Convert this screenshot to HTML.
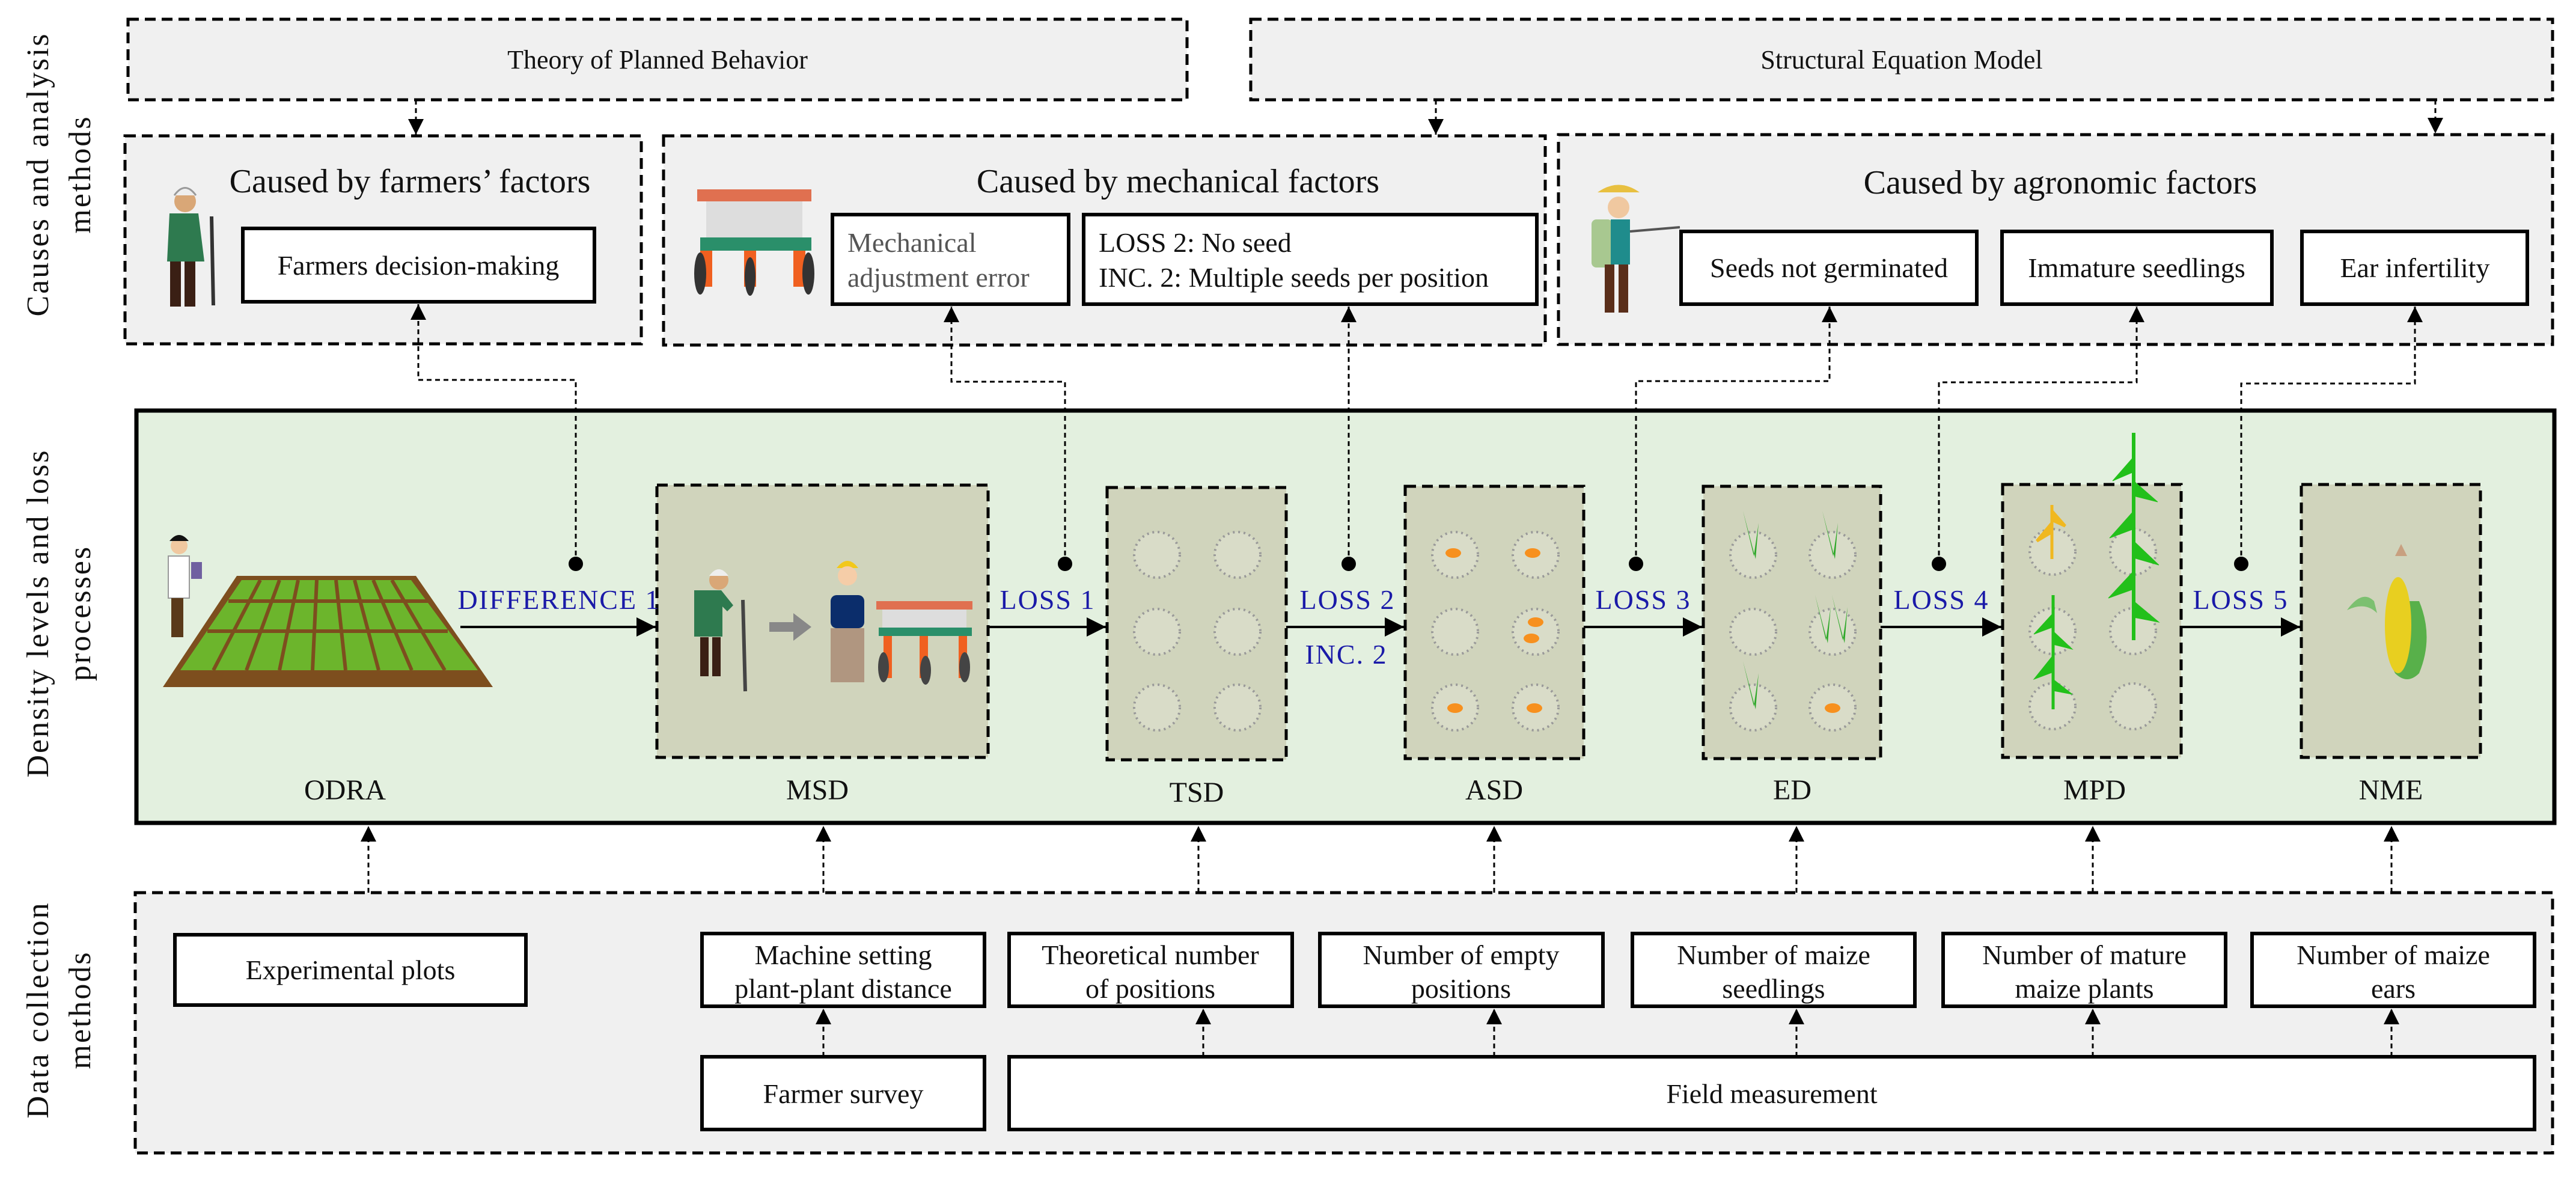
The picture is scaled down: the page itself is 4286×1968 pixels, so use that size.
<!DOCTYPE html>
<html><head><meta charset="utf-8"><style>
html,body{margin:0;padding:0;background:#fff;}
svg{display:block;}
text{font-family:"Liberation Serif",serif;fill:#111;}
.blue{fill:#1a1aa8;}
</style></head><body>
<svg width="4286" height="1968" viewBox="0 0 4286 1968" xmlns="http://www.w3.org/2000/svg">
<defs>
<marker id="ahb" viewBox="0 0 10 10" refX="10" refY="5" markerWidth="32" markerHeight="32" markerUnits="userSpaceOnUse" orient="auto">
<path d="M0,0 L10,5 L0,10 z" fill="#000"/></marker>
<marker id="ahs" viewBox="0 0 10 10" refX="10" refY="5" markerWidth="26" markerHeight="26" markerUnits="userSpaceOnUse" orient="auto">
<path d="M0,0 L10,5 L0,10 z" fill="#000"/></marker>
</defs>

<g font-size="52" text-anchor="middle">
<text transform="translate(80,290) rotate(-90)" letter-spacing="3">Causes and analysis</text>
<text transform="translate(150,290) rotate(-90)" letter-spacing="3">methods</text>
<text transform="translate(80,1020) rotate(-90)" letter-spacing="3">Density levels and loss</text>
<text transform="translate(150,1020) rotate(-90)" letter-spacing="3">processes</text>
<text transform="translate(80,1680) rotate(-90)" letter-spacing="3">Data collection</text>
<text transform="translate(150,1680) rotate(-90)" letter-spacing="3">methods</text>
</g>

<g fill="#f0f0f0" stroke="#000" stroke-width="5" stroke-dasharray="18 10">
<rect x="213" y="32" width="1762" height="134"/>
<rect x="2081" y="32" width="2166" height="134"/>
<rect x="208" y="226" width="859" height="346"/>
<rect x="1104" y="226" width="1467" height="348"/>
<rect x="2593" y="224" width="1654" height="349"/>
</g>
<g font-size="44" text-anchor="middle">
<text x="1094" y="114">Theory of Planned Behavior</text>
<text x="3164" y="114">Structural Equation Model</text>
</g>
<g stroke="#000" stroke-width="3" stroke-dasharray="8 6" fill="none">
<line x1="692" y1="166" x2="692" y2="224" marker-end="url(#ahs)"/>
<line x1="2389" y1="166" x2="2389" y2="224" marker-end="url(#ahs)"/>
<line x1="4052" y1="166" x2="4052" y2="222" marker-end="url(#ahs)"/>
</g>

<g font-size="56" text-anchor="middle">
<text x="682" y="320">Caused by farmers’ factors</text>
<text x="1960" y="320">Caused by mechanical factors</text>
<text x="3428" y="322">Caused by agronomic factors</text>
</g>
<g fill="#fff" stroke="#000" stroke-width="6">
<rect x="404" y="380" width="585" height="122"/>
<rect x="1385" y="357" width="393" height="149"/>
<rect x="1803" y="357" width="754" height="149"/>
<rect x="2797" y="385" width="492" height="121"/>
<rect x="3331" y="385" width="449" height="121"/>
<rect x="3830" y="385" width="375" height="121"/>
</g>
<g font-size="46">
<text x="696" y="457" text-anchor="middle">Farmers decision-making</text>
<text x="1410" y="419" style="fill:#555">Mechanical</text>
<text x="1410" y="477" style="fill:#555">adjustment error</text>
<text x="1828" y="419">LOSS 2: No seed</text>
<text x="1828" y="477">INC. 2: Multiple seeds per position</text>
<text x="3043" y="461" text-anchor="middle">Seeds not germinated</text>
<text x="3555" y="461" text-anchor="middle">Immature seedlings</text>
<text x="4018" y="461" text-anchor="middle">Ear infertility</text>
</g>

<g>
<circle cx="308" cy="335" r="18" fill="#d9a777"/>
<path d="M290 325 q18 -25 36 0" fill="#eee" stroke="#999" stroke-width="3"/>
<path d="M282 355 h48 l10 80 h-62 z" fill="#2e7a4f"/>
<rect x="283" y="435" width="18" height="75" fill="#3a1f14"/>
<rect x="307" y="435" width="18" height="75" fill="#3a1f14"/>
<line x1="352" y1="360" x2="355" y2="508" stroke="#333" stroke-width="6"/>
</g>
<g>
<rect x="1160" y="315" width="190" height="20" fill="#e07050"/>
<rect x="1175" y="335" width="160" height="60" fill="#ddd"/>
<rect x="1165" y="395" width="185" height="22" fill="#2a8f6a"/>
<rect x="1165" y="417" width="20" height="60" fill="#f06020"/>
<rect x="1238" y="417" width="20" height="60" fill="#f06020"/>
<rect x="1320" y="417" width="20" height="60" fill="#f06020"/>
<ellipse cx="1165" cy="455" rx="10" ry="35" fill="#333"/>
<ellipse cx="1248" cy="460" rx="9" ry="32" fill="#333"/>
<ellipse cx="1345" cy="455" rx="10" ry="35" fill="#333"/>
</g>
<g>
<path d="M2658 320 q35 -25 70 0 z" fill="#e8c040"/>
<circle cx="2693" cy="345" r="18" fill="#f0c8a0"/>
<rect x="2648" y="365" width="35" height="80" rx="8" fill="#a8c890"/>
<rect x="2680" y="365" width="32" height="75" fill="#1f8c8c"/>
<line x1="2712" y1="385" x2="2795" y2="378" stroke="#555" stroke-width="4"/>
<rect x="2670" y="440" width="16" height="80" fill="#5a2e1a"/>
<rect x="2693" y="440" width="16" height="80" fill="#5a2e1a"/>
</g>

<rect x="227" y="683" width="4023" height="686" fill="#e3f0df" stroke="#000" stroke-width="7"/>

<g stroke="#000" stroke-width="3" stroke-dasharray="8 6" fill="none">
<polyline points="958,938 958,632 696,632 696,506" marker-end="url(#ahs)"/>
<polyline points="1772,938 1772,635 1583,635 1583,510" marker-end="url(#ahs)"/>
<polyline points="2244,938 2244,510" marker-end="url(#ahs)"/>
<polyline points="2722,938 2722,634 3044,634 3044,510" marker-end="url(#ahs)"/>
<polyline points="3226,938 3226,636 3555,636 3555,510" marker-end="url(#ahs)"/>
<polyline points="3729,938 3729,638 4018,638 4018,510" marker-end="url(#ahs)"/>
</g>
<g fill="#000">
<circle cx="958" cy="938" r="12"/><circle cx="1772" cy="938" r="12"/><circle cx="2244" cy="938" r="12"/>
<circle cx="2722" cy="938" r="12"/><circle cx="3226" cy="938" r="12"/><circle cx="3729" cy="938" r="12"/>
</g>

<g fill="#d0d4bc" stroke="#000" stroke-width="5" stroke-dasharray="18 10">
<rect x="1093" y="807" width="551" height="453"/>
<rect x="1842" y="811" width="298" height="453"/>
<rect x="2338" y="809" width="297" height="453"/>
<rect x="2834" y="809" width="295" height="453"/>
<rect x="3332" y="806" width="297" height="454"/>
<rect x="3829" y="806" width="298" height="454"/>
</g>
<g fill="#d9dcc8" stroke="#999" stroke-width="4" stroke-dasharray="3 6">
<circle cx="1925" cy="923" r="38"/><circle cx="2059" cy="923" r="38"/>
<circle cx="1925" cy="1051" r="38"/><circle cx="2059" cy="1051" r="38"/>
<circle cx="1925" cy="1177" r="38"/><circle cx="2059" cy="1177" r="38"/>
<circle cx="2421" cy="923" r="38"/><circle cx="2555" cy="923" r="38"/>
<circle cx="2421" cy="1051" r="38"/><circle cx="2555" cy="1051" r="38"/>
<circle cx="2421" cy="1177" r="38"/><circle cx="2555" cy="1177" r="38"/>
<circle cx="2917" cy="923" r="38"/><circle cx="3049" cy="923" r="38"/>
<circle cx="2917" cy="1051" r="38"/><circle cx="3049" cy="1051" r="38"/>
<circle cx="2917" cy="1177" r="38"/><circle cx="3049" cy="1177" r="38"/>
<circle cx="3415" cy="918" r="38"/><circle cx="3549" cy="918" r="38"/>
<circle cx="3415" cy="1050" r="38"/><circle cx="3549" cy="1050" r="38"/>
<circle cx="3415" cy="1175" r="38"/><circle cx="3549" cy="1175" r="38"/>
</g>
<g fill="#f7901e">
<ellipse cx="2418" cy="920" rx="13" ry="8"/><ellipse cx="2550" cy="920" rx="13" ry="8"/>
<ellipse cx="2555" cy="1035" rx="13" ry="8"/><ellipse cx="2548" cy="1062" rx="13" ry="8"/>
<ellipse cx="2421" cy="1178" rx="13" ry="8"/><ellipse cx="2553" cy="1178" rx="13" ry="8"/>
<ellipse cx="3049" cy="1178" rx="13" ry="8"/>
</g>
<g fill="#2fa82a">
<path d="M2900 850 l18 75 l8 -55 l-5 60 z"/><path d="M3032 850 l18 75 l8 -55 l-5 60 z"/>
<path d="M3020 990 l18 75 l8 -55 l-5 60 z"/><path d="M3048 990 l18 75 l8 -55 l-5 60 z"/>
<path d="M2900 1100 l18 75 l8 -55 l-5 60 z"/>
</g>
<g fill="#22c01a" stroke="#22c01a">
<line x1="3550" y1="720" x2="3550" y2="1065" stroke-width="6"/>
<path d="M3550 760 l-35 40 l35 -15 z M3550 800 l40 35 l-40 -10 z M3550 850 l-40 45 l40 -15 z M3550 900 l42 40 l-42 -12 z M3550 950 l-42 45 l42 -15 z M3550 1000 l42 35 l-42 -8 z"/>
<line x1="3416" y1="990" x2="3416" y2="1180" stroke-width="5"/>
<path d="M3416 1020 l-32 35 l32 -12 z M3416 1050 l32 30 l-32 -8 z M3416 1090 l-32 40 l32 -12 z M3416 1130 l32 25 l-32 -6 z"/>
</g>
<g fill="#f0b820">
<path d="M3414 870 l-25 30 l25 -15 z M3414 850 l22 25 l-22 -10 z M3414 840 v90" stroke="#f0b820" stroke-width="5"/>
</g>
<g>
<path d="M3985 1000 q-30 60 0 120 q20 20 40 0 q25 -60 0 -120 z" fill="#58b04a"/>
<ellipse cx="3990" cy="1040" rx="22" ry="80" fill="#e8cf20"/>
<path d="M3950 1000 q-20 -20 -45 15 q30 -15 50 5 z" fill="#7cc070"/>
<path d="M3985 925 l10 -20 l10 20 z" fill="#c8a080"/>
</g>
<g>
<circle cx="1196" cy="965" r="16" fill="#d9a777"/>
<path d="M1180 958 q16 -22 32 0" fill="#eee"/>
<path d="M1155 982 h45 l20 25 l-10 10 l-8 -8 v50 h-47 z" fill="#2e7a4f"/>
<rect x="1165" y="1060" width="14" height="65" fill="#3a1f14"/><rect x="1185" y="1060" width="14" height="65" fill="#3a1f14"/>
<line x1="1236" y1="998" x2="1240" y2="1150" stroke="#444" stroke-width="6"/>
<path d="M1280 1035 h40 v-15 l30 23 l-30 23 v-15 h-40 z" fill="#888"/>
<path d="M1392 945 q18 -24 36 0 z" fill="#f2c81a"/>
<circle cx="1410" cy="958" r="16" fill="#f5cda8"/>
<rect x="1382" y="990" width="56" height="55" rx="10" fill="#0b2d6b"/>
<rect x="1382" y="1045" width="56" height="90" fill="#b09680"/>
<rect x="1458" y="1000" width="160" height="14" fill="#e07050"/>
<rect x="1468" y="1014" width="140" height="30" fill="#ddd"/>
<rect x="1462" y="1044" width="155" height="14" fill="#2a8f6a"/>
<rect x="1470" y="1058" width="14" height="70" fill="#f06020"/><rect x="1530" y="1058" width="14" height="70" fill="#f06020"/><rect x="1595" y="1058" width="14" height="70" fill="#f06020"/>
<ellipse cx="1470" cy="1110" rx="9" ry="25" fill="#444"/><ellipse cx="1540" cy="1115" rx="9" ry="24" fill="#444"/><ellipse cx="1605" cy="1110" rx="9" ry="25" fill="#444"/>
</g>
<g>
<polygon points="394,958 692,958 820,1143 271,1143" fill="#7d4e1e"/>
<polygon points="402,965 684,965 795,1115 300,1115" fill="#6cb52c"/>
<g stroke="#7d4e1e" stroke-width="6">
<line x1="380" y1="1000" x2="712" y2="1000"/><line x1="345" y1="1050" x2="745" y2="1050"/>
<line x1="433" y1="965" x2="355" y2="1115"/><line x1="465" y1="965" x2="410" y2="1115"/>
<line x1="496" y1="965" x2="465" y2="1115"/><line x1="527" y1="965" x2="520" y2="1115"/>
<line x1="559" y1="965" x2="575" y2="1115"/><line x1="590" y1="965" x2="630" y2="1115"/>
<line x1="621" y1="965" x2="685" y2="1115"/><line x1="652" y1="965" x2="740" y2="1115"/>
</g>
<circle cx="298" cy="908" r="14" fill="#f0c8a0"/><path d="M282 900 q16 -20 32 0 z" fill="#111"/>
<rect x="280" y="925" width="35" height="70" fill="#fff" stroke="#999" stroke-width="2"/>
<rect x="285" y="995" width="20" height="65" fill="#5a3a1a"/>
<rect x="318" y="935" width="18" height="28" fill="#7060a0"/>
</g>

<g stroke="#000" stroke-width="4">
<line x1="766" y1="1043" x2="1091" y2="1043" marker-end="url(#ahb)"/>
<line x1="1644" y1="1043" x2="1840" y2="1043" marker-end="url(#ahb)"/>
<line x1="2140" y1="1043" x2="2336" y2="1043" marker-end="url(#ahb)"/>
<line x1="2635" y1="1043" x2="2832" y2="1043" marker-end="url(#ahb)"/>
<line x1="3129" y1="1043" x2="3330" y2="1043" marker-end="url(#ahb)"/>
<line x1="3629" y1="1043" x2="3827" y2="1043" marker-end="url(#ahb)"/>
</g>
<g font-size="46" text-anchor="middle">
<text class="blue" x="930" y="1013" letter-spacing="2">DIFFERENCE 1</text>
<text class="blue" x="1743" y="1013" letter-spacing="2">LOSS 1</text>
<text class="blue" x="2242" y="1013" letter-spacing="2">LOSS 2</text>
<text class="blue" x="2240" y="1104" letter-spacing="2">INC. 2</text>
<text class="blue" x="2734" y="1013" letter-spacing="2">LOSS 3</text>
<text class="blue" x="3230" y="1013" letter-spacing="2">LOSS 4</text>
<text class="blue" x="3728" y="1013" letter-spacing="2">LOSS 5</text>
</g>
<g font-size="48" text-anchor="middle">
<text x="574" y="1330">ODRA</text><text x="1360" y="1330">MSD</text><text x="1991" y="1334">TSD</text>
<text x="2486" y="1330">ASD</text><text x="2982" y="1330">ED</text><text x="3485" y="1330">MPD</text><text x="3978" y="1330">NME</text>
</g>

<rect x="225" y="1485" width="4022" height="433" fill="#f0f0f0" stroke="#000" stroke-width="5" stroke-dasharray="18 10"/>
<g stroke="#000" stroke-width="3" stroke-dasharray="8 6" fill="none">
<line x1="613" y1="1485" x2="613" y2="1374" marker-end="url(#ahs)"/>
<line x1="1370" y1="1485" x2="1370" y2="1374" marker-end="url(#ahs)"/>
<line x1="1994" y1="1485" x2="1994" y2="1374" marker-end="url(#ahs)"/>
<line x1="2486" y1="1485" x2="2486" y2="1374" marker-end="url(#ahs)"/>
<line x1="2989" y1="1485" x2="2989" y2="1374" marker-end="url(#ahs)"/>
<line x1="3482" y1="1485" x2="3482" y2="1374" marker-end="url(#ahs)"/>
<line x1="3979" y1="1485" x2="3979" y2="1374" marker-end="url(#ahs)"/>
<line x1="1370" y1="1758" x2="1370" y2="1678" marker-end="url(#ahs)"/>
<line x1="2002" y1="1758" x2="2002" y2="1678" marker-end="url(#ahs)"/>
<line x1="2486" y1="1758" x2="2486" y2="1678" marker-end="url(#ahs)"/>
<line x1="2989" y1="1758" x2="2989" y2="1678" marker-end="url(#ahs)"/>
<line x1="3482" y1="1758" x2="3482" y2="1678" marker-end="url(#ahs)"/>
<line x1="3979" y1="1758" x2="3979" y2="1678" marker-end="url(#ahs)"/>
</g>
<g fill="#fff" stroke="#000" stroke-width="6">
<rect x="291" y="1555" width="584" height="117"/>
<rect x="1168" y="1553" width="470" height="121"/>
<rect x="1679" y="1553" width="471" height="121"/>
<rect x="2196" y="1553" width="471" height="121"/>
<rect x="2716" y="1553" width="470" height="121"/>
<rect x="3233" y="1553" width="470" height="121"/>
<rect x="3747" y="1553" width="470" height="121"/>
<rect x="1168" y="1758" width="470" height="121"/>
<rect x="1679" y="1758" width="2538" height="121"/>
</g>
<g font-size="46" text-anchor="middle">
<text x="583" y="1629">Experimental plots</text>
<text x="1403" y="1604">Machine setting</text><text x="1403" y="1660">plant-plant distance</text>
<text x="1914" y="1604">Theoretical number</text><text x="1914" y="1660">of positions</text>
<text x="2431" y="1604">Number of empty</text><text x="2431" y="1660">positions</text>
<text x="2951" y="1604">Number of maize</text><text x="2951" y="1660">seedlings</text>
<text x="3468" y="1604">Number of mature</text><text x="3468" y="1660">maize plants</text>
<text x="3982" y="1604">Number of maize</text><text x="3982" y="1660">ears</text>
<text x="1403" y="1835">Farmer survey</text>
<text x="2948" y="1835">Field measurement</text>
</g>
</svg>
</body></html>
